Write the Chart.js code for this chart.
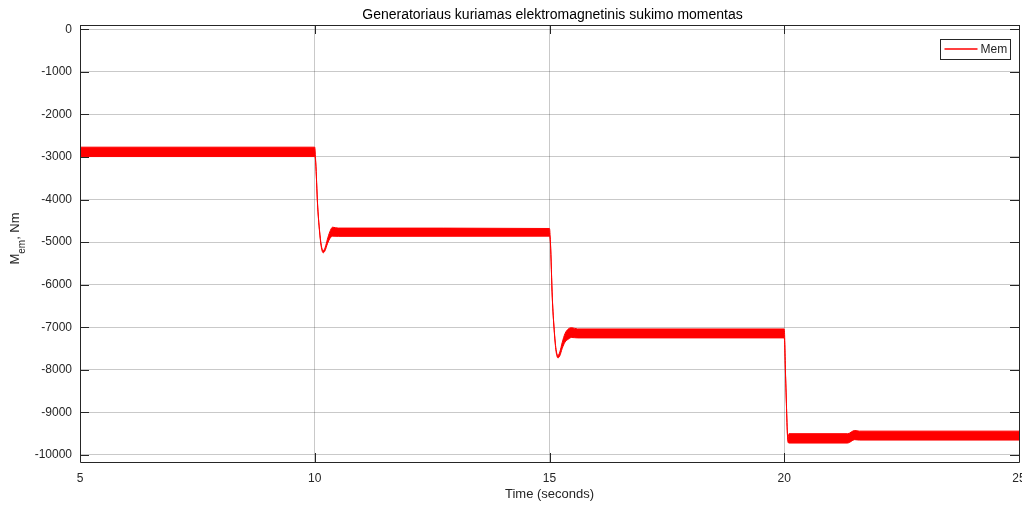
<!DOCTYPE html>
<html>
<head>
<meta charset="utf-8">
<script src="https://cdn.jsdelivr.net/npm/chart.js@4.4.0/dist/chart.umd.min.js"></script>
<style>
  html, body { margin: 0; padding: 0; background: #fff; overflow: hidden; }
  #wrap { position: relative; width: 1022px; height: 505px; }
</style>
</head>
<body>
<div id="wrap"><canvas id="c"></canvas></div>
<script>
// ---- data (upper / lower edge of the oscillation band) ----
const timeS    = [5, 10, 10.02, 10.06, 10.1, 10.14, 10.18, 10.22, 10.27, 10.32, 10.38, 10.5, 15,
                  15.02, 15.06, 15.1, 15.14, 15.18, 15.22, 15.27, 15.33, 15.4, 15.47, 15.6, 20,
                  20.03, 20.08, 20.1, 21.35, 21.5, 21.6, 25];
const memUpper = [-2770, -2770, -3100, -4100, -4700, -5080, -5200, -5130, -4930, -4760, -4650, -4670, -4680,
                  -5000, -6300, -7050, -7520, -7660, -7580, -7360, -7150, -7040, -7010, -7040, -7040,
                  -8200, -9640, -9500, -9500, -9425, -9440, -9440];
const memLower = [-2990, -2990, -3130, -4130, -4730, -5120, -5250, -5200, -5040, -4920, -4860, -4865, -4860,
                  -5030, -6330, -7080, -7570, -7720, -7670, -7500, -7350, -7280, -7240, -7250, -7250,
                  -8220, -9700, -9720, -9720, -9640, -9650, -9650];
const xTicks     = [5, 10, 15, 20, 25];
const yTicks     = [0, -1000, -2000, -3000, -4000, -5000, -6000, -7000, -8000, -9000, -10000];
const chartTitle = 'Generatoriaus kuriamas elektromagnetinis sukimo momentas';
const xTitle     = 'Time (seconds)';
const legendName = 'Mem';

const FONT = '"Liberation Sans", Arial, Helvetica, sans-serif';
const TXT = '#262626';
const RED = '#ff0000';

const upperPts = timeS.map((t, i) => ({ x: t, y: memUpper[i] }));
const lowerPts = timeS.map((t, i) => ({ x: t, y: memLower[i] }));

const framePlugin = {
  id: 'matlabFrame',
  afterDatasetsDraw(chart) {
    const { ctx, chartArea: a, scales } = chart;
    ctx.save();
    ctx.strokeStyle = TXT;
    ctx.lineWidth = 1;
    ctx.beginPath();
    ctx.rect(Math.round(a.left) + 0.5, Math.round(a.top) + 0.5, Math.round(a.right - a.left), Math.round(a.bottom - a.top));
    ctx.stroke();
    const tl = 9;
    ctx.beginPath();
    scales.x.ticks.forEach((tk, i) => {
      const px = Math.round(scales.x.getPixelForTick(i)) + 0.5;
      ctx.moveTo(px, a.bottom); ctx.lineTo(px, a.bottom - tl);
      ctx.moveTo(px, a.top); ctx.lineTo(px, a.top + tl);
    });
    scales.y.ticks.forEach((tk, i) => {
      const py = Math.round(scales.y.getPixelForTick(i)) + 0.5;
      ctx.moveTo(a.left, py); ctx.lineTo(a.left + tl, py);
      ctx.moveTo(a.right, py); ctx.lineTo(a.right - tl, py);
    });
    ctx.stroke();

    // legend box
    const bx = Math.round(a.right - 79) + 0.5, by = Math.round(a.top + 14) + 0.5, bw = 70, bh = 20;
    ctx.fillStyle = '#fff';
    ctx.fillRect(bx, by, bw, bh);
    ctx.strokeStyle = TXT;
    ctx.strokeRect(bx, by, bw, bh);
    ctx.beginPath();
    ctx.strokeStyle = RED;
    ctx.lineWidth = 1.5;
    ctx.moveTo(bx + 4, by + 9.5); ctx.lineTo(bx + 37, by + 9.5);
    ctx.stroke();
    ctx.lineWidth = 1;
    ctx.fillStyle = TXT;
    ctx.font = '12px ' + FONT;
    ctx.textAlign = 'left';
    ctx.textBaseline = 'middle';
    ctx.fillText(legendName, bx + 40, by + 10.5);

    // title
    ctx.fillStyle = '#000';
    ctx.font = '14px ' + FONT;
    ctx.textAlign = 'center';
    ctx.textBaseline = 'alphabetic';
    ctx.fillText(chartTitle, (a.left + a.right) / 2 + 3, 19);

    // y-axis title with subscript
    const yc = (a.top + a.bottom) / 2 - 5;
    const fMain = '13px ' + FONT, fSub = '10px ' + FONT;
    ctx.font = fMain; const wM = ctx.measureText('M').width; const wRest = ctx.measureText(', Nm').width;
    ctx.font = fSub; const wSub = ctx.measureText('em').width;
    const total = wM + wSub + wRest;
    ctx.translate(19, yc + total / 2);
    ctx.rotate(-Math.PI / 2);
    ctx.fillStyle = TXT;
    ctx.textAlign = 'left';
    ctx.textBaseline = 'alphabetic';
    ctx.font = fMain; ctx.fillText('M', 0, 0);
    ctx.font = fSub; ctx.fillText('em', wM, 6);
    ctx.font = fMain; ctx.fillText(', Nm', wM + wSub, 0);
    ctx.restore();
  }
};

new Chart(document.getElementById('c'), {
  type: 'line',
  data: {
    datasets: [
      { label: 'upper', data: upperPts, borderColor: RED, backgroundColor: RED, borderWidth: 1, pointRadius: 0, fill: '+1', tension: 0.3, cubicInterpolationMode: 'monotone' },
      { label: 'lower', data: lowerPts, borderColor: RED, backgroundColor: RED, borderWidth: 1, pointRadius: 0, fill: false, tension: 0.3, cubicInterpolationMode: 'monotone' }
    ]
  },
  options: {
    responsive: true,
    maintainAspectRatio: false,
    animation: false,
    events: [],
    layout: { padding: { left: 0, top: 25, right: 3, bottom: 0 } },
    plugins: { legend: { display: false }, title: { display: false }, tooltip: { enabled: false } },
    scales: {
      x: {
        type: 'linear', min: 5, max: 25,
        afterBuildTicks: s => { s.ticks = xTicks.map(v => ({ value: v })); },
        afterFit: s => { s.height = 43; s.paddingLeft = 0; s.paddingRight = 0; },
        grid: { color: 'rgba(38,38,38,0.25)', drawTicks: false, lineWidth: 1 },
        border: { display: false },
        ticks: { color: TXT, font: { family: FONT, size: 12 }, padding: 9, maxRotation: 0, autoSkip: false },
        title: { display: true, text: xTitle, color: TXT, font: { family: FONT, size: 13 }, padding: { top: 0, bottom: 3 } }
      },
      y: {
        type: 'linear', min: -10165, max: 100,
        afterBuildTicks: s => { s.ticks = yTicks.map(v => ({ value: v })); },
        afterFit: s => { s.width = 80; s.paddingTop = 0; s.paddingBottom = 0; },
        grid: { color: 'rgba(38,38,38,0.25)', drawTicks: false, lineWidth: 1 },
        border: { display: false },
        ticks: { color: TXT, font: { family: FONT, size: 12 }, padding: 8, autoSkip: false, callback: v => String(v) }
      }
    }
  },
  plugins: [framePlugin]
});
</script>
</body>
</html>
